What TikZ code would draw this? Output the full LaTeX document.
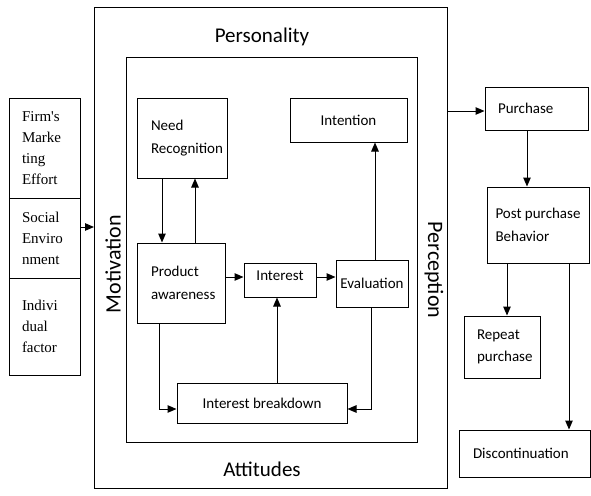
\documentclass[tikz,border=0pt]{standalone}
\usepackage{fontspec}
\setmainfont{Carlito}
\newfontfamily\serifstack{Liberation Serif}
\usetikzlibrary{arrows.meta}
\begin{document}
\begin{tikzpicture}[x=1pt,y=-1pt,
  box/.style={draw, line width=1pt, inner sep=0pt, font=\fontsize{15}{22.5}\selectfont},
  lbox/.style={box, align=left},
  stackbox/.style={draw, line width=1pt, inner sep=0pt, minimum width=71pt, font=\serifstack\fontsize{15}{21}\selectfont, align=left, text width=45pt},
  big/.style={font=\fontsize{21}{24}\selectfont},
  side/.style={font=\fontsize{22}{24}\selectfont},
  arr/.style={-{Triangle[length=9pt,width=7.5pt]}, line width=1pt}
]
\useasboundingbox (0,0) rectangle (591,495);
% outer and inner frames
\node[draw, line width=1pt, minimum width=353pt, minimum height=481pt, inner sep=0pt] (outer) at (271,248) {};
\node[draw, line width=1pt, minimum width=291pt, minimum height=384pt, inner sep=0pt] (inner) at (271.5,250) {};
\node[big] (pers) at (262,37) {Personality};
\node[big] (att) at (262,469) {Attitudes};
\node[side, rotate=90] (mot) at (113,264) {Motivation};
\node[side, rotate=-90] (perc) at (434,270) {Perception};
% left stack
\node[stackbox, minimum height=100pt] (firm) at (44.5,148) {Firm's\\Marke\\ting\\Effort};
\node[stackbox, minimum height=80pt] (soc) at (44.5,238) {Social\\Enviro\\nment};
\node[stackbox, minimum height=97pt] (ind) at (44.5,326.5) {Indivi\\dual\\factor};
% inner boxes
\node[lbox, minimum width=90pt, minimum height=80pt, text width=62pt] (need) at (182,138) {Need\\Recognition};
\node[box, minimum width=117pt, minimum height=44pt] (intent) at (348.5,120) {Intention};
\node[lbox, minimum width=88pt, minimum height=80pt, text width=60pt] (prod) at (181,283) {Product\\awareness};
\node[box, minimum width=72pt, minimum height=34pt, text depth=8pt] (inter) at (280,280) {Interest};
\node[box, minimum width=72pt, minimum height=47pt] (eval) at (372,283.5) {Evaluation};
\node[box, minimum width=170pt, minimum height=40pt] (brk) at (262,403) {Interest breakdown};
% right side
\node[lbox, minimum width=103pt, minimum height=43pt, text width=77pt] (purch) at (536.5,108.5) {Purchase};
\node[lbox, minimum width=102pt, minimum height=76pt] (post) at (538,225) {Post purchase\\Behavior};
\node[lbox, minimum width=76pt, minimum height=62pt, text width=50pt] (rep) at (502,347) {Repeat\\purchase};
\node[lbox, minimum width=131pt, minimum height=47pt, text width=103pt] (disc) at (524.5,453.5) {Discontinuation};
% arrows
\draw[arr] (soc.east |- 0,227) -- (outer.west |- 0,227);
\draw[arr] (need.south -| 162,0) -- (prod.north -| 162,0);
\draw[arr] (prod.north -| 195,0) -- (need.south -| 195,0);
\draw[arr] (prod.east |- 0,277) -- (inter.west |- 0,277);
\draw[arr] (inter.east |- 0,277) -- (eval.west |- 0,277);
\draw[arr] (eval.north -| 375,0) -- (intent.south -| 375,0);
\draw[arr] (brk.north -| 277,0) -- (inter.south -| 277,0);
\draw[arr] (prod.south -| 159,0) |- (brk.west |- 0,409);
\draw[arr] (eval.south -| 371,0) |- (brk.east |- 0,409);
\draw[arr] (outer.east |- 0,111) -- (purch.west |- 0,111);
\draw[arr] (purch.south -| 527,0) -- (post.north -| 527,0);
\draw[arr] (post.south -| 507,0) -- (rep.north -| 507,0);
\draw[arr] (post.south -| 569,0) -- (disc.north -| 569,0);
\end{tikzpicture}
\end{document}
